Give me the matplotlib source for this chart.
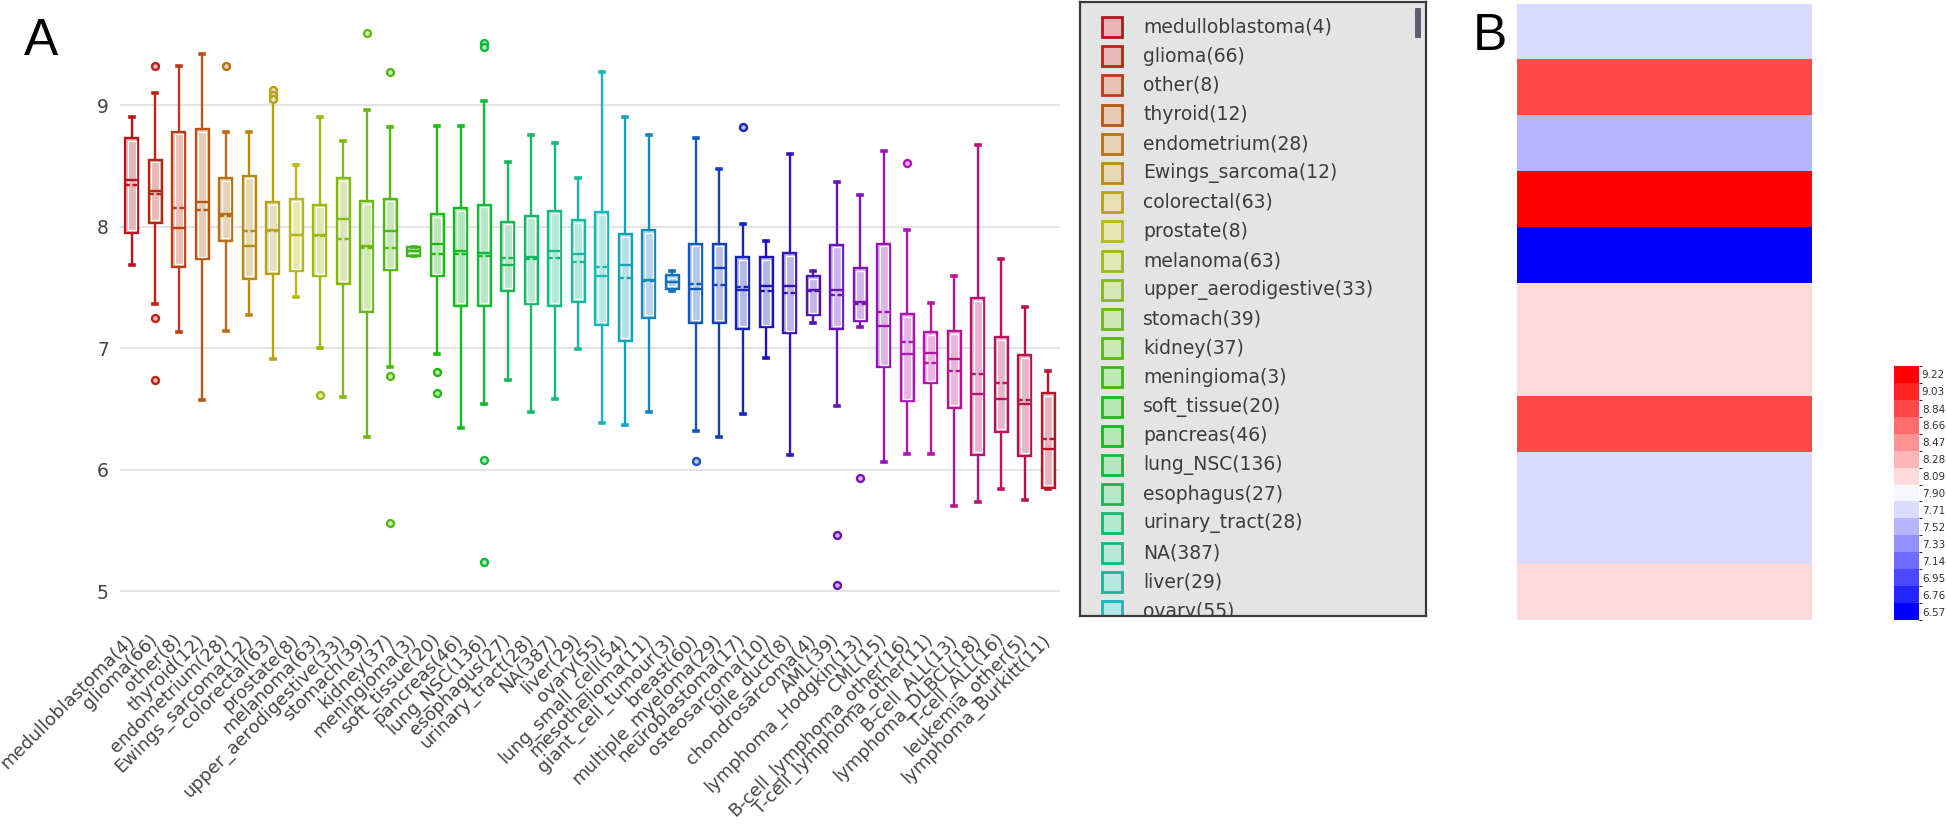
import colorsys
import numpy as np
import matplotlib
matplotlib.use("Agg")
import matplotlib.pyplot as plt
from matplotlib.colors import ListedColormap, BoundaryNorm
from matplotlib.patches import Rectangle, FancyBboxPatch

# ---- data ----
categories = [
    "medulloblastoma(4)", "glioma(66)", "other(8)", "thyroid(12)", "endometrium(28)",
    "Ewings_sarcoma(12)", "colorectal(63)", "prostate(8)", "melanoma(63)",
    "upper_aerodigestive(33)", "stomach(39)", "kidney(37)", "meningioma(3)",
    "soft_tissue(20)", "pancreas(46)", "lung_NSC(136)", "esophagus(27)",
    "urinary_tract(28)", "NA(387)", "liver(29)", "ovary(55)", "lung_small_cell(54)",
    "mesothelioma(11)", "giant_cell_tumour(3)", "breast(60)", "multiple_myeloma(29)",
    "neuroblastoma(17)", "osteosarcoma(10)", "bile_duct(8)", "chondrosarcoma(4)",
    "AML(39)", "lymphoma_Hodgkin(13)", "CML(15)", "B-cell_lymphoma_other(16)",
    "T-cell_lymphoma_other(11)", "B-cell_ALL(13)", "lymphoma_DLBCL(18)",
    "T-cell_ALL(16)", "leukemia_other(5)", "lymphoma_Burkitt(11)",
]
whishi = [8.90, 9.10, 9.32, 9.42, 8.78, 8.78, 9.03, 8.51, 8.90, 8.70,
          8.96, 8.82, 7.83, 8.83, 8.83, 9.03, 8.53, 8.75, 8.69, 8.40,
          9.27, 8.90, 8.75, 7.63, 8.73, 8.47, 8.02, 7.88, 8.60, 7.63,
          8.37, 8.26, 8.62, 7.97, 7.37, 7.59, 8.67, 7.73, 7.34, 6.81]
q3 = [8.73, 8.55, 8.78, 8.80, 8.40, 8.42, 8.20, 8.23, 8.18, 8.40,
      8.21, 8.23, 7.83, 8.10, 8.15, 8.18, 8.04, 8.09, 8.13, 8.05,
      8.12, 7.94, 7.97, 7.60, 7.86, 7.86, 7.75, 7.75, 7.78, 7.59,
      7.85, 7.66, 7.86, 7.28, 7.13, 7.14, 7.41, 7.09, 6.94, 6.63]
med = [8.38, 8.29, 7.99, 8.20, 8.10, 7.84, 7.97, 7.93, 7.93, 8.06,
       7.84, 7.96, 7.80, 7.86, 7.80, 7.78, 7.68, 7.75, 7.80, 7.77,
       7.59, 7.68, 7.56, 7.54, 7.49, 7.66, 7.48, 7.51, 7.51, 7.48,
       7.48, 7.38, 7.18, 6.95, 6.96, 6.91, 6.62, 6.58, 6.54, 6.17]
mean = [8.34, 8.27, 8.15, 8.14, 8.09, 7.96, 7.96, 7.93, 7.92, 7.90,
        7.82, 7.82, 7.80, 7.77, 7.77, 7.76, 7.74, 7.73, 7.74, 7.71,
        7.67, 7.58, 7.55, 7.54, 7.53, 7.52, 7.50, 7.47, 7.45, 7.47,
        7.44, 7.36, 7.30, 7.05, 6.88, 6.81, 6.79, 6.71, 6.57, 6.25]
q1 = [7.95, 8.03, 7.67, 7.73, 7.88, 7.57, 7.61, 7.63, 7.59, 7.53,
      7.30, 7.64, 7.76, 7.59, 7.35, 7.35, 7.47, 7.36, 7.35, 7.38,
      7.19, 7.06, 7.25, 7.49, 7.21, 7.21, 7.16, 7.17, 7.12, 7.27,
      7.16, 7.22, 6.84, 6.56, 6.71, 6.51, 6.12, 6.31, 6.11, 5.85]
whislo = [7.68, 7.36, 7.13, 6.57, 7.14, 7.27, 6.91, 7.42, 7.00, 6.60,
          6.27, 6.84, 7.76, 6.95, 6.34, 6.54, 6.74, 6.47, 6.58, 6.99,
          6.38, 6.37, 6.47, 7.47, 6.32, 6.27, 6.46, 6.92, 6.12, 7.21,
          6.52, 7.17, 6.06, 6.13, 6.13, 5.70, 5.73, 5.84, 5.75, 5.84]
outliers = {
    "glioma(66)": [9.32, 7.25, 6.74],
    "endometrium(28)": [9.32],
    "colorectal(63)": [9.12, 9.08, 9.05],
    "melanoma(63)": [6.61],
    "stomach(39)": [9.59],
    "kidney(37)": [9.27, 6.77, 5.56],
    "soft_tissue(20)": [6.80, 6.63],
    "lung_NSC(136)": [9.51, 9.48, 6.08, 5.24],
    "breast(60)": [6.07],
    "neuroblastoma(17)": [8.82],
    "AML(39)": [5.46, 5.05],
    "lymphoma_Hodgkin(13)": [5.93],
    "B-cell_lymphoma_other(16)": [8.52],
}

heat_values = [7.71, 8.84, 7.52, 9.22, 6.57, 8.09, 8.09, 8.84, 7.71, 7.71, 8.09]
scale_labels = [6.57, 6.76, 6.95, 7.14, 7.33, 7.52, 7.71, 7.90,
                8.09, 8.28, 8.47, 8.66, 8.84, 9.03, 9.22]

# ---- layout helpers (pixel boxes on a 1946x830 canvas) ----
W, H = 1946, 830


def px_box(x0, y0, x1, y1):
    return [x0 / W, 1 - y1 / H, (x1 - x0) / W, (y1 - y0) / H]


n = len(categories)
colors = [colorsys.hls_to_rgb(((9.1 * i - 3) % 360) / 360, 0.40, 0.80) for i in range(n)]
light = [tuple(1 - 0.32 * (1 - c) for c in col) for col in colors]

fig = plt.figure(figsize=(W / 100, H / 100), dpi=100)
fig.patch.set_facecolor("white")

# ---- panel A: box plots ----
ax = fig.add_axes(px_box(120, 20, 1060, 622))
stats = []
for i, name in enumerate(categories):
    stats.append(dict(label=name, whislo=whislo[i], q1=q1[i], med=med[i], mean=mean[i],
                      q3=q3[i], whishi=whishi[i], fliers=outliers.get(name, [])))

bw = 0.55
bp = ax.bxp(stats, positions=range(n), widths=bw, capwidths=0.18, patch_artist=True,
            showmeans=True, meanline=True, manage_ticks=False)
for i in range(n):
    c = colors[i]
    bp["boxes"][i].set(facecolor=light[i], edgecolor=c, linewidth=1.7, zorder=2)
    for art in bp["whiskers"][2 * i:2 * i + 2]:
        art.set(color=c, linewidth=1.7)
    for art in bp["caps"][2 * i:2 * i + 2]:
        art.set(color=c, linewidth=2.6)
    bp["medians"][i].set(color=c, linewidth=1.7, zorder=4)
    bp["means"][i].set(color=c, linewidth=1.7, linestyle=(0, (2, 1.2)), zorder=4)
    bp["fliers"][i].set(marker="o", markersize=5, markerfacecolor=light[i],
                        markeredgecolor=c, markeredgewidth=1.7)
    # thin white inner outline like the original rendering
    dx, dy = 0.11, 0.022
    if q3[i] - q1[i] > 2 * dy:
        ax.add_patch(Rectangle((i - bw / 2 + dx, q1[i] + dy), bw - 2 * dx,
                               q3[i] - q1[i] - 2 * dy, fill=False, edgecolor="white",
                               linewidth=0.9, zorder=3))

ax.set_xlim(-0.5, n - 0.5)
ax.set_ylim(4.745, 9.70)
ax.set_yticks([5, 6, 7, 8, 9])
ax.set_xticks(range(n))
ax.set_xticklabels(categories, rotation=45, ha="right", va="center",
                   rotation_mode="anchor")
ax.tick_params(axis="both", length=0, labelsize=13, labelcolor="#444444")
ax.tick_params(axis="x", pad=11)
ax.tick_params(axis="y", labelsize=13.5, pad=8)
ax.yaxis.grid(True, color="#e2e2e2", linewidth=1.3)
ax.set_axisbelow(True)
for sp in ax.spines.values():
    sp.set_visible(False)

# ---- legend panel ----
lg = fig.add_axes(px_box(1080, 2, 1426, 616))
lg.set_xlim(0, 346)
lg.set_ylim(614, 0)
lg.set_facecolor("#e4e4e4")
lg.set_xticks([])
lg.set_yticks([])
for sp in lg.spines.values():
    sp.set_color("#3a3a3a")
    sp.set_linewidth(1.6)
for i, name in enumerate(categories):
    y = 25 + 29.2 * i
    if y > 640:
        break
    lg.add_patch(Rectangle((22, y - 10), 20, 20, facecolor=light[i], edgecolor=colors[i],
                           linewidth=2, clip_on=True))
    lg.text(63, y, name, va="center", ha="left", fontsize=13.5, color="#3c3c3c",
            clip_on=True)
lg.add_patch(FancyBboxPatch((336, 7), 4, 28, boxstyle="round,pad=1",
                            facecolor="#5b5f6e", edgecolor="none"))

# ---- panel B: heatmap ----
edges = [scale_labels[0] - 0.095]
edges += [(a + b) / 2 for a, b in zip(scale_labels[:-1], scale_labels[1:])]
edges += [scale_labels[-1] + 0.095]
cell_colors = []
for k in range(len(scale_labels)):
    g = 1 - abs(k - 7) / 7
    if k < 7:
        cell_colors.append((g, g, 1))
    elif k > 7:
        cell_colors.append((1, g, g))
    else:
        cell_colors.append((0.97, 0.97, 1))
cmap = ListedColormap(cell_colors)
norm = BoundaryNorm(edges, cmap.N)

hm = fig.add_axes(px_box(1517, 4, 1812, 620))
im = hm.imshow(np.array(heat_values)[:, None], cmap=cmap, norm=norm, aspect="auto",
               interpolation="nearest")
hm.axis("off")

cax = fig.add_axes(px_box(1894, 366, 1919, 620))
cb = fig.colorbar(im, cax=cax, ticks=scale_labels)
cb.outline.set_visible(False)
cb.ax.set_yticklabels([f"{v:.2f}" for v in scale_labels])
cax.tick_params(length=0, labelsize=7.5, pad=2, labelcolor="#333333")

# ---- panel letters ----
fig.text(24 / W, 1 - 55 / H, "A", fontsize=37, family="Liberation Sans")
fig.text(1473 / W, 1 - 50 / H, "B", fontsize=37, family="Liberation Sans")

fig.savefig("out.png", dpi=100)
